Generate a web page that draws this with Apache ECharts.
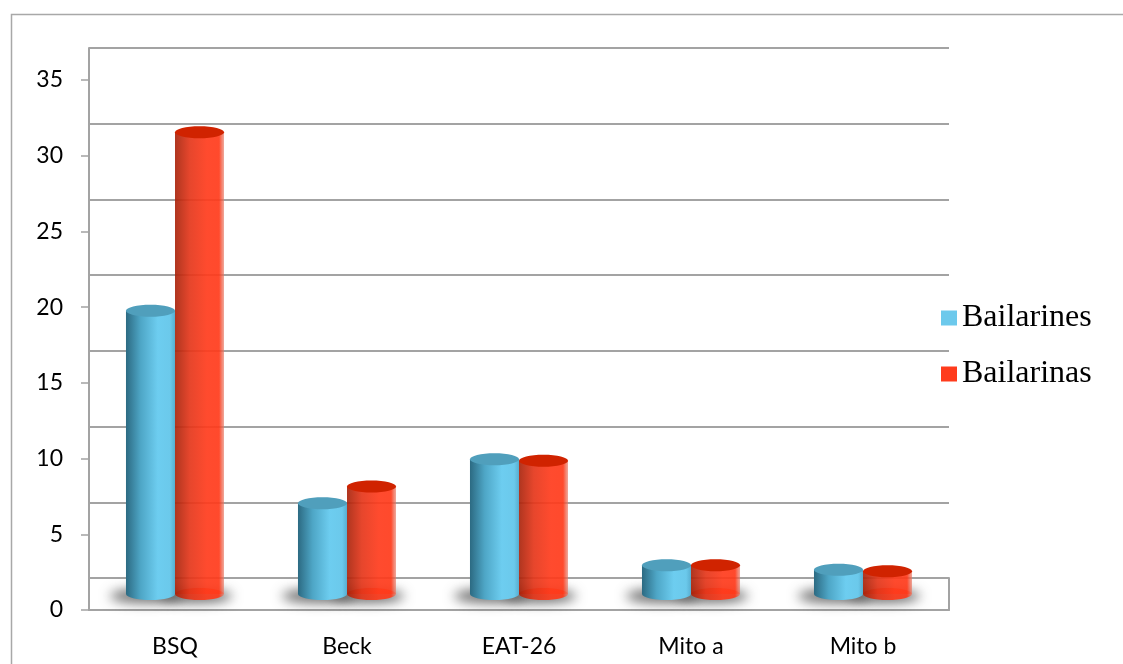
<!DOCTYPE html>
<html>
<head>
<meta charset="utf-8">
<title>Bailarines / Bailarinas</title>
<script src="https://cdn.jsdelivr.net/npm/echarts@6/dist/echarts.min.js"></script>
<style>
  html, body { margin: 0; padding: 0; background: #fff; }
  #chart { width: 1123px; height: 664px; }
</style>
</head>
<body>
<div id="chart"></div>
<script>
  // datos
  var categorias = ['BSQ', 'Beck', 'EAT-26', 'Mito a', 'Mito b'];
  var bailarines = [18.7, 6.0, 8.9, 1.9, 1.6];
  var bailarinas = [30.5, 7.1, 8.8, 1.9, 1.5];
  var yMin = 0, yMax = 35, yPaso = 5;

  var gris = '#a3a3a3';
  var fuente = 'Lato, "Open Sans", sans-serif';

  var azul = {
    legend: '#6cc9ec',
    top: '#509fbc',
    body: [
      {offset: 0, color: '#2c6a82'},
      {offset: 0.3, color: '#4ea6c6'},
      {offset: 0.65, color: '#6dcdf0'},
      {offset: 0.9, color: '#6bc9eb'},
      {offset: 1, color: '#58aed0'}
    ],
    opacity: 1
  };
  var rojo = {
    legend: '#ff3b1c',
    top: '#d02300',
    body: [
      {offset: 0, color: '#a8240c'},
      {offset: 0.3, color: '#e4361a'},
      {offset: 0.65, color: '#ff3b1c'},
      {offset: 0.9, color: '#ff3a1a'},
      {offset: 1, color: 'rgba(230,120,100,0.7)'}
    ],
    opacity: 0.92
  };

  function ancho(api) {
    return api.size([1, 0])[0] * 0.285;
  }

  // cilindro: cuerpo + base + tapa
  function cilindro(colores, lado) {
    return function (params, api) {
      var tope = api.coord([api.value(0), api.value(1)]);
      var base = api.coord([api.value(0), 0]);
      var w = ancho(api);
      var cx = tope[0] + lado * w / 2;
      var rx = w / 2, ry = 6;
      var grad = new echarts.graphic.LinearGradient(0, 0, 1, 0, colores.body);
      return {
        type: 'group',
        children: [
          {type: 'rect', shape: {x: cx - rx, y: tope[1], width: w, height: base[1] - tope[1]},
            style: {fill: grad, opacity: colores.opacity}},
          {type: 'ellipse', shape: {cx: cx, cy: base[1], rx: rx, ry: ry},
            style: {fill: grad, opacity: colores.opacity}},
          {type: 'ellipse', shape: {cx: cx, cy: tope[1], rx: rx, ry: ry},
            style: {fill: colores.top}}
        ]
      };
    };
  }

  // sombra difusa bajo cada cilindro
  function sombra(lado) {
    return function (params, api) {
      var base = api.coord([api.value(0), 0]);
      var w = ancho(api);
      var cx = base[0] + lado * w / 2 - 4;
      return {
        type: 'ellipse',
        shape: {cx: cx, cy: base[1] + 2 - 2000, rx: w / 2 + 12, ry: 7},
        style: {fill: '#888', shadowBlur: 12, shadowColor: 'rgba(60,60,60,0.75)', shadowOffsetY: 2000}
      };
    };
  }

  function pares(arr) {
    return arr.map(function (v, i) { return [i, v]; });
  }

  var chart = echarts.init(document.getElementById('chart'));
  chart.setOption({
    animation: false,
    backgroundColor: '#fff',
    graphic: [{
      type: 'rect', left: 9, top: 12, z: -10,
      shape: {width: 1300, height: 800},
      style: {fill: 'none', stroke: '#a8a8a8', lineWidth: 1.5}
    }],
    legend: {
      orient: 'vertical',
      left: 936,
      top: 297,
      itemWidth: 16,
      itemHeight: 15,
      itemGap: 24,
      icon: 'rect',
      data: ['Bailarines', 'Bailarinas'],
      textStyle: {fontFamily: '"Liberation Serif", "DejaVu Serif", serif', fontSize: 32, lineHeight: 32, color: '#000'}
    },
    grid: [
      // frente
      {left: 89, right: 174, top: 80, bottom: 54},
      // pared del fondo
      {left: 89, right: 174, top: 48, bottom: 86},
      // profundidad media (cilindros)
      {left: 89, right: 174, top: 64, bottom: 70},
      // suelo
      {left: 89, right: 174, top: 578, bottom: 54}
    ],
    xAxis: [
      {gridIndex: 0, type: 'category', data: categorias,
        axisLine: {lineStyle: {color: gris, width: 2}},
        axisTick: {length: 7, lineStyle: {color: gris, width: 1.5}},
        axisLabel: {fontFamily: fuente, fontSize: 23, color: '#000', margin: 25}},
      {gridIndex: 1, type: 'category', data: categorias, show: false},
      {gridIndex: 2, type: 'category', data: categorias, show: false},
      {gridIndex: 3, type: 'category', data: categorias, show: false}
    ],
    yAxis: [
      {gridIndex: 0, type: 'value', min: yMin, max: yMax, interval: yPaso,
        axisLine: {show: true, lineStyle: {color: gris, width: 2}},
        axisTick: {show: true, length: 8, lineStyle: {color: gris, width: 1.5}},
        splitLine: {show: false},
        axisLabel: {fontFamily: fuente, fontSize: 23, color: '#000', margin: 26}},
      {gridIndex: 1, type: 'value', min: yMin, max: yMax, interval: yPaso,
        axisLine: {show: true, lineStyle: {color: gris, width: 2}},
        axisTick: {show: false},
        axisLabel: {show: false},
        splitLine: {show: true, lineStyle: {color: gris, width: 2}}},
      {gridIndex: 2, type: 'value', min: yMin, max: yMax, interval: yPaso, show: false},
      {gridIndex: 3, type: 'value', min: 0, max: 1, position: 'right',
        axisLine: {show: true, lineStyle: {color: gris, width: 2}},
        axisTick: {show: false}, axisLabel: {show: false}, splitLine: {show: false}}
    ],
    series: [
      {type: 'custom', name: 'sombraA', xAxisIndex: 2, yAxisIndex: 2, z: 2,
        data: pares(bailarines), renderItem: sombra(-1), silent: true},
      {type: 'custom', name: 'sombraB', xAxisIndex: 2, yAxisIndex: 2, z: 2,
        data: pares(bailarinas), renderItem: sombra(1), silent: true},
      {type: 'custom', name: 'Bailarines', xAxisIndex: 2, yAxisIndex: 2, z: 3,
        itemStyle: {color: azul.legend},
        encode: {x: 0, y: 1},
        data: pares(bailarines), renderItem: cilindro(azul, -1)},
      {type: 'custom', name: 'Bailarinas', xAxisIndex: 2, yAxisIndex: 2, z: 3,
        itemStyle: {color: rojo.legend},
        encode: {x: 0, y: 1},
        data: pares(bailarinas), renderItem: cilindro(rojo, 1)}
    ]
  });
</script>
</body>
</html>
